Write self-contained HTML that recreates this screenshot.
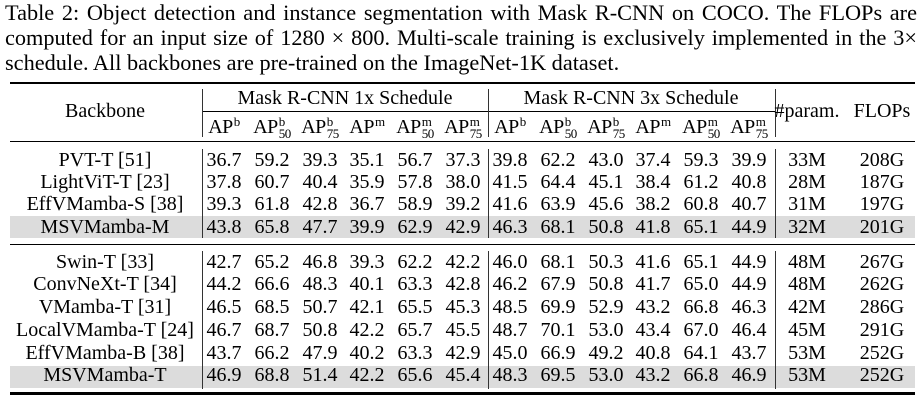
<!DOCTYPE html>
<html><head><meta charset="utf-8"><style>
body{margin:0;width:924px;height:400px;background:#fff;position:relative;overflow:hidden;font-family:"Liberation Serif",serif;font-size:20px;color:#000}
.cap{position:absolute;left:5px;width:912px;text-align:justify;text-align-last:justify;line-height:25px;white-space:nowrap;font-size:22.3px}
.r{position:absolute;background:#000;left:10px;width:905px}
.v{position:absolute;background:#333;width:1.3px}
.g{position:absolute;left:10px;width:905px;background:#dcdcdc}
.c{position:absolute;width:120px;margin-left:-60px;text-align:center;line-height:22px;white-space:nowrap}
.ss{display:inline-block;vertical-align:top;font-size:13px;line-height:12px;text-align:left;margin-left:1px}
.ss span{display:block}
.ap{letter-spacing:-0.5px}
</style></head><body>
<div class="cap" style="top:0">Table 2: Object detection and instance segmentation with Mask R-CNN on COCO. The FLOPs are</div>
<div class="cap" style="top:25px">computed for an input size of 1280 × 800. Multi-scale training is exclusively implemented in the 3×</div>
<div class="cap" style="top:50px;width:auto;text-align-last:left">schedule. All backbones are pre-trained on the ImageNet-1K dataset.</div>

<div class="g" style="top:216px;height:22px"></div>
<div class="g" style="top:366px;height:22px"></div>

<div class="r" style="top:82px;height:2px"></div>
<div class="r" style="top:111px;height:1px;left:202px;width:573px"></div>
<div class="r" style="top:141px;height:1.3px"></div>
<div class="r" style="top:244px;height:1.3px"></div>
<div class="r" style="top:392px;height:2.5px"></div>

<div class="v" style="left:202px;top:89px;height:48px"></div>
<div class="v" style="left:488px;top:89px;height:48px"></div>
<div class="v" style="left:775px;top:89px;height:48px"></div>
<div class="v" style="left:202px;top:149px;height:89px"></div>
<div class="v" style="left:488px;top:149px;height:89px"></div>
<div class="v" style="left:775px;top:149px;height:89px"></div>
<div class="v" style="left:202px;top:251px;height:138px"></div>
<div class="v" style="left:488px;top:251px;height:138px"></div>
<div class="v" style="left:775px;top:251px;height:138px"></div>

<div class="c" style="left:105px;top:100px">Backbone</div>
<div class="c" style="left:345px;top:87px;width:260px;margin-left:-130px">Mask R-CNN 1x Schedule</div>
<div class="c" style="left:631px;top:87px;width:260px;margin-left:-130px">Mask R-CNN 3x Schedule</div>
<div class="c" style="left:807px;top:100px">#param.</div>
<div class="c" style="left:882px;top:100px">FLOPs</div>

<div style="position:absolute;top:116px;left:0">
<div class="c ap" style="left:224px">AP<span class="ss"><span>b</span></span></div>
<div class="c ap" style="left:272px">AP<span class="ss"><span>b</span><span>50</span></span></div>
<div class="c ap" style="left:320px">AP<span class="ss"><span>b</span><span>75</span></span></div>
<div class="c ap" style="left:367px">AP<span class="ss"><span>m</span></span></div>
<div class="c ap" style="left:415px">AP<span class="ss"><span>m</span><span>50</span></span></div>
<div class="c ap" style="left:463px">AP<span class="ss"><span>m</span><span>75</span></span></div>
<div class="c ap" style="left:510px">AP<span class="ss"><span>b</span></span></div>
<div class="c ap" style="left:558px">AP<span class="ss"><span>b</span><span>50</span></span></div>
<div class="c ap" style="left:606px">AP<span class="ss"><span>b</span><span>75</span></span></div>
<div class="c ap" style="left:653px">AP<span class="ss"><span>m</span></span></div>
<div class="c ap" style="left:701px">AP<span class="ss"><span>m</span><span>50</span></span></div>
<div class="c ap" style="left:749px">AP<span class="ss"><span>m</span><span>75</span></span></div>
</div>

<div id="rows"></div>
<script>
var rows=[
[160,"PVT-T [51]","36.7 59.2 39.3 35.1 56.7 37.3 39.8 62.2 43.0 37.4 59.3 39.9 33M 208G"],
[182,"LightViT-T [23]","37.8 60.7 40.4 35.9 57.8 38.0 41.5 64.4 45.1 38.4 61.2 40.8 28M 187G"],
[204,"EffVMamba-S [38]","39.3 61.8 42.8 36.7 58.9 39.2 41.6 63.9 45.6 38.2 60.8 40.7 31M 197G"],
[227,"MSVMamba-M","43.8 65.8 47.7 39.9 62.9 42.9 46.3 68.1 50.8 41.8 65.1 44.9 32M 201G"],
[262,"Swin-T [33]","42.7 65.2 46.8 39.3 62.2 42.2 46.0 68.1 50.3 41.6 65.1 44.9 48M 267G"],
[284,"ConvNeXt-T [34]","44.2 66.6 48.3 40.1 63.3 42.8 46.2 67.9 50.8 41.7 65.0 44.9 48M 262G"],
[307,"VMamba-T [31]","46.5 68.5 50.7 42.1 65.5 45.3 48.5 69.9 52.9 43.2 66.8 46.3 42M 286G"],
[330,"LocalVMamba-T [24]","46.7 68.7 50.8 42.2 65.7 45.5 48.7 70.1 53.0 43.4 67.0 46.4 45M 291G"],
[353,"EffVMamba-B [38]","43.7 66.2 47.9 40.2 63.3 42.9 45.0 66.9 49.2 40.8 64.1 43.7 53M 252G"],
[375,"MSVMamba-T","46.9 68.8 51.4 42.2 65.6 45.4 48.3 69.5 53.0 43.2 66.8 46.9 53M 252G"]];
var xs=[224,272,320,367,415,463,510,558,606,653,701,749,807,882];
var h="";
rows.forEach(function(r){
 h+='<div class="c" style="left:105px;top:'+(r[0]-11)+'px;width:200px;margin-left:-100px">'+r[1]+'</div>';
 r[2].split(" ").forEach(function(v,i){h+='<div class="c" style="left:'+xs[i]+'px;top:'+(r[0]-11)+'px">'+v+'</div>';});
});
document.getElementById("rows").innerHTML=h;
</script>
</body></html>
